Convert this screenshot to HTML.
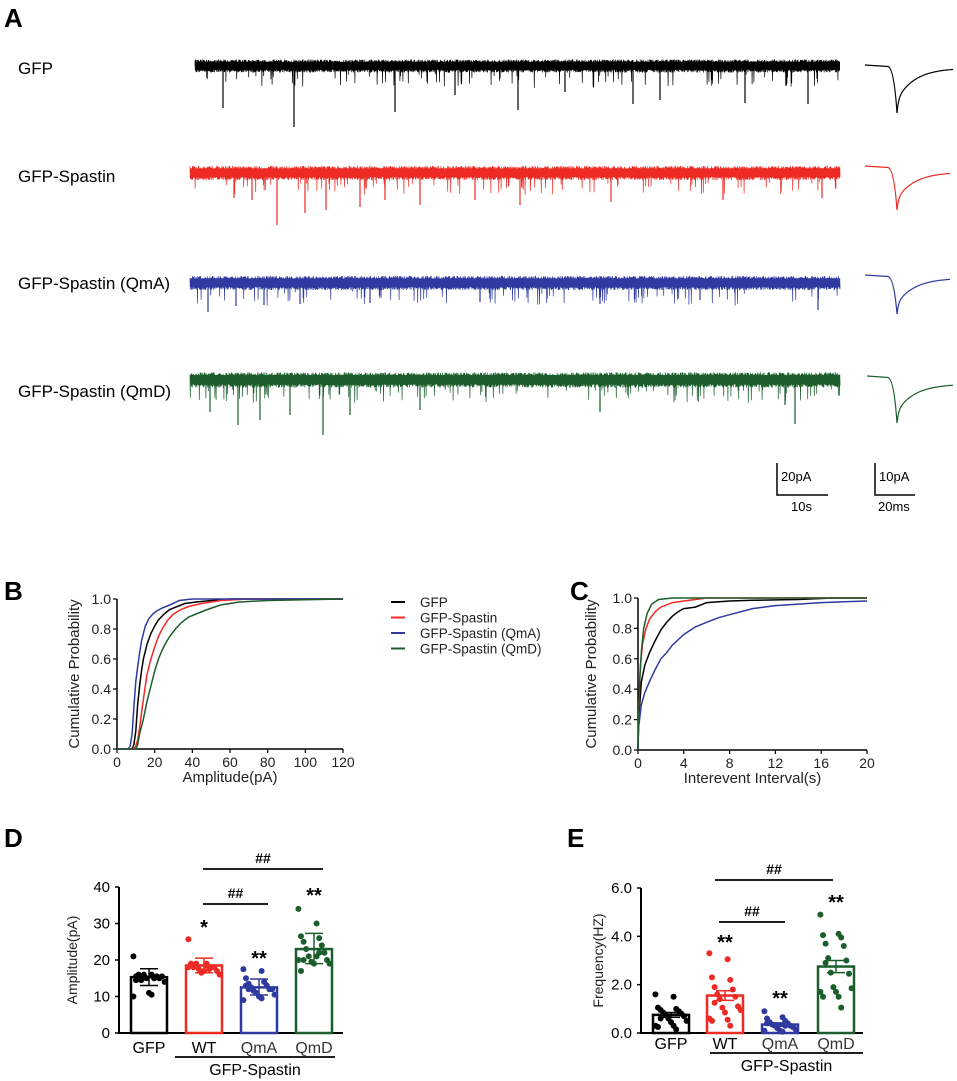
<!DOCTYPE html>
<html><head><meta charset="utf-8">
<style>
html,body{margin:0;padding:0;background:#fff;}
svg{display:block;font-family:"Liberation Sans",Arial,sans-serif;}
</style></head>
<body>
<svg id="fig" width="957" height="1081" viewBox="0 0 957 1081" xmlns="http://www.w3.org/2000/svg">
<g id="panelA">
<text x="4" y="27" font-size="26" font-weight="bold">A</text>
<text x="18" y="74" font-size="17">GFP</text>
<text x="18" y="182" font-size="17">GFP-Spastin</text>
<text x="18" y="289" font-size="17">GFP-Spastin (QmA)</text>
<text x="18" y="397" font-size="17">GFP-Spastin (QmD)</text>
<g stroke="#000" stroke-width="1.5" fill="none">
<path d="M777,463 V495 H828"/></g>
<text x="781" y="481" font-size="13">20pA</text>
<text x="791" y="511" font-size="13">10s</text>
<g stroke="#000" stroke-width="1.5" fill="none">
<path d="M875,463 V495 H915"/></g>
<text x="879" y="481" font-size="13">10pA</text>
<text x="878" y="511" font-size="13">20ms</text>
</g>
<g id="panelB">
<text x="4" y="600" font-size="26" font-weight="bold">B</text>
</g>
<g id="panelC">
<text x="570" y="600" font-size="26" font-weight="bold">C</text>
</g>
<g id="panelD">
<text x="4" y="847" font-size="26" font-weight="bold">D</text>
</g>
<g id="panelE">
<text x="567" y="847" font-size="26" font-weight="bold">E</text>
</g>
</svg>
<script>
// ---------- data ----------
const groupNames = ["GFP","GFP-Spastin","GFP-Spastin (QmA)","GFP-Spastin (QmD)"];
const groupColors = ["#000000","#ee2a24","#2e3a9f","#1b5e2c"];
// Panel B: amplitude CDF (x pA, y prob)
const ampGFP_x = [0,8,9,10,11,12,13,14,16,18,20,22,25,28,32,36,42,50,60,80,120];
const ampGFP_y = [0,0,0.03,0.12,0.3,0.42,0.52,0.6,0.7,0.77,0.82,0.86,0.9,0.93,0.95,0.97,0.98,0.99,1,1,1];
const ampWT_x = [0,9,10,11,12,13,14,15,16,18,20,22,24,27,30,34,38,45,55,70,120];
const ampWT_y = [0,0,0.02,0.06,0.14,0.24,0.33,0.42,0.5,0.6,0.68,0.75,0.8,0.86,0.9,0.93,0.95,0.97,0.99,1,1];
const ampQmA_x = [0,6,7,8,9,10,11,12,13,14,15,17,19,21,24,28,33,40,120];
const ampQmA_y = [0,0,0.02,0.1,0.28,0.45,0.55,0.64,0.72,0.77,0.82,0.87,0.9,0.92,0.94,0.96,0.99,1,1];
const ampQmD_x = [0,10,11,12,14,16,18,20,22,24,26,28,31,34,38,42,48,55,65,80,120];
const ampQmD_y = [0,0,0.03,0.1,0.2,0.32,0.42,0.52,0.6,0.66,0.71,0.75,0.8,0.84,0.88,0.9,0.93,0.96,0.98,0.99,1];
// Panel C: interval CDF (s)
const intGFP_x = [0,0.05,0.3,0.6,1,1.5,2,2.5,3,3.5,4,5,6,8,10,14,17,20];
const intGFP_y = [0,0.2,0.45,0.56,0.64,0.72,0.79,0.84,0.88,0.91,0.93,0.94,0.97,0.98,0.985,0.99,1,1];
const intWT_x = [0,0.05,0.2,0.4,0.7,1,1.5,2,3,4,6,20];
const intWT_y = [0,0.25,0.55,0.7,0.8,0.86,0.91,0.94,0.97,0.98,1,1];
const intQmA_x = [0,0.05,0.3,0.6,1,1.5,2,2.5,3,4,5,6,7,8,9,10,12,14,16,18,20];
const intQmA_y = [0,0.15,0.3,0.38,0.45,0.53,0.6,0.64,0.69,0.76,0.81,0.84,0.87,0.89,0.91,0.93,0.95,0.96,0.97,0.975,0.98];
const intQmD_x = [0,0.05,0.15,0.3,0.5,0.8,1.2,1.8,3,20];
const intQmD_y = [0,0.2,0.45,0.65,0.8,0.9,0.96,0.99,1,1];
// Panel D: amplitude
const barLabels = ["GFP","WT","QmA","QmD"];
const ampMeans = [15.3,18.5,12.5,23.0];
const ampErrLo = [13.0,16.5,10.4,19.0];
const ampErrHi = [17.6,20.5,14.8,27.3];
const ampDotsGFP = [21,16,15.5,15,15,15.5,14.5,15,16,15.5,15,14,11,10,10.5,14.5,15,16];
const ampDotsWT = [25.7,19,18.5,18,18.5,18,19,18,17.5,17,16.5,16,17,18,18.5,19,17.5,18];
const ampDotsQmA = [17.5,17,15,14,13.5,13,12.5,12,11.5,12,11,10.5,10,9,9.5,13,14,12];
const ampDotsQmD = [34,30,26.5,26,25,24,23,22,21,20,19.5,19,19,20,21,17,22,20];
const ampTicks = [0,10,20,30,40];
// Panel E: frequency
const freqMeans = [0.75,1.55,0.35,2.75];
const freqErrLo = [0.65,1.35,0.28,2.5];
const freqErrHi = [0.85,1.75,0.42,3.0];
const freqDotsGFP = [1.6,1.5,1.05,1.0,0.95,0.9,0.85,0.8,0.75,0.7,0.6,0.5,0.45,0.3,0.3,0.25,0.15,0.6];
const freqDotsWT = [3.3,3.05,2.3,2.2,1.9,1.8,1.6,1.5,1.4,1.1,1.05,0.95,0.85,0.6,0.55,0.5,0.3,1.25];
const freqDotsQmA = [0.9,0.65,0.6,0.5,0.45,0.4,0.35,0.3,0.3,0.25,0.2,0.15,0.1,0.1,0.05,0.4,0.3];
const freqDotsQmD = [4.9,4.1,4.05,3.95,3.7,3.6,3.1,3.0,2.5,2.45,1.9,1.85,1.7,1.7,1.5,1.5,1.05,2.9];
const freqTicks = [0,2,4,6];
const freqTickLabels = ["0.0","2.0","4.0","6.0"];

// ---------- helpers ----------
const NS="http://www.w3.org/2000/svg";
function mk(parent,tag,attrs,txt){const e=document.createElementNS(NS,tag);for(const k in attrs)e.setAttribute(k,attrs[k]);if(txt!==undefined)e.textContent=txt;parent.appendChild(e);return e;}
let seed=12345;function rnd(){seed=(seed*1103515245+12345)&0x7fffffff;return seed/0x7fffffff;}

// ---------- Panel A traces ----------
const A=document.getElementById('panelA');
const traceRows=[
 {x0:195,base:66,half:6,big:[[223,108],[294,127],[395,112],[518,110],[633,104],[660,100],[745,103],[808,104],[455,95],[565,92]]},
 {x0:190,base:173,half:6.5,big:[[277,225],[305,213],[326,210],[360,207],[385,200],[420,205],[475,200],[520,205],[611,202],[723,200],[822,198],[252,200],[234,198]]},
 {x0:190,base:283,half:6.5,big:[[208,312],[236,306],[264,305],[300,304],[370,303],[480,302],[600,304],[700,300],[818,310]]},
 {x0:190,base:380,half:7,big:[[238,425],[260,420],[323,435],[290,415],[350,415],[420,410],[600,412],[795,424],[785,405],[210,412]]}
];
traceRows.forEach((r,i)=>{
  const g=mk(A,'g',{});
  
  
  mk(g,'rect',{x:r.x0,y:r.base-r.half*0.7,width:840-r.x0,height:r.half*1.3,fill:groupColors[i]});
  let d='M'+r.x0+','+r.base;
  for(let x=r.x0;x<=840;x+=0.6){
    const y1=r.base-r.half*(0.6+rnd()*0.5);
    let y2=r.base+r.half*(0.6+rnd()*0.5);
    if(rnd()<0.08) y2+=4+rnd()*12;
    d+=' L'+x.toFixed(1)+','+y1.toFixed(1)+' L'+(x+0.3).toFixed(1)+','+y2.toFixed(1);
  }
  mk(g,'path',{d:d,fill:'none',stroke:groupColors[i],'stroke-width':'0.7'});
  r.big.forEach(b=>mk(g,'line',{x1:b[0],x2:b[0],y1:r.base,y2:b[1],stroke:groupColors[i],'stroke-width':'1.2'}));
  const av=[[865,65,897,113,953,68],[865,166,897,210,950,172],[865,275,897,314,950,278],[867,376,897,423,953,384]][i];
  const base=av[1],px=av[2],py=av[3],ex=av[4],ey=av[5];
  let ad='M'+av[0]+','+base+' L'+(px-9)+','+(base+1.5)+' Q'+(px-3)+','+(base+3)+' '+px+','+py;
  for(let x=px;x<=ex;x+=1){const t=(x-px);const y=ey+(py-ey)*(0.3*Math.exp(-t/1.5)+0.7*Math.exp(-t/18));ad+=' L'+x+','+y.toFixed(1);}
  const avg=mk(A,'path',{d:ad,fill:'none',stroke:groupColors[i],'stroke-width':'1.2'});
  
  
});

// ---------- CDF panels ----------
function cdfPanel(gid,x0,x1,xmax,xticks,xtitle,series,yt0,yt1,titleX){
  const G=document.getElementById(gid);
  const sx=v=>x0+(x1-x0)*v/xmax, sy=v=>yt0+(yt1-yt0)*v;
  const ax=mk(G,'path',{d:'M'+x0+','+yt1+' V'+yt0+' H'+x1,fill:'none',stroke:'#000','stroke-width':'1.5'});
  
  [0,0.2,0.4,0.6,0.8,1].forEach(v=>{
    mk(G,'line',{x1:x0-4,x2:x0,y1:sy(v),y2:sy(v),stroke:'#000','stroke-width':'1.2'});
    const t=mk(G,'text',{x:x0-6,y:sy(v)+5,'font-size':'14','text-anchor':'end',fill:'#222'},v.toFixed(1));
    
  });
  xticks.forEach(v=>{
    mk(G,'line',{x1:sx(v),x2:sx(v),y1:yt0,y2:yt0+4,stroke:'#000','stroke-width':'1.2'});
    const t=mk(G,'text',{x:sx(v),y:yt0+18,'font-size':'14','text-anchor':'middle',fill:'#222'},String(v));
    
  });
  const xt=mk(G,'text',{x:(x0+x1)/2,y:yt0+33,'font-size':'15','text-anchor':'middle',fill:'#222'},xtitle);
  
  const yt=mk(G,'text',{x:0,y:0,'font-size':'15','text-anchor':'middle',fill:'#222',transform:'translate('+titleX+','+((yt0+yt1)/2)+') rotate(-90)'},'Cumulative Probability');
  
  series.forEach((s,i)=>{
    let d='';s[0].forEach((xv,k)=>{d+=(k?' L':'M')+sx(xv).toFixed(1)+','+sy(s[1][k]).toFixed(1);});
    const p=mk(G,'path',{d:d,fill:'none',stroke:groupColors[i],'stroke-width':'1.5'});
    
    
  });
}
cdfPanel('panelB',117,343,120,[0,20,40,60,80,100,120],'Amplitude(pA)',
 [[ampGFP_x,ampGFP_y],[ampWT_x,ampWT_y],[ampQmA_x,ampQmA_y],[ampQmD_x,ampQmD_y]],749,599,79);
cdfPanel('panelC',638,867,20,[0,4,8,12,16,20],'Interevent Interval(s)',
 [[intGFP_x,intGFP_y],[intWT_x,intWT_y],[intQmA_x,intQmA_y],[intQmD_x,intQmD_y]],750,598,596);
// legend
const B=document.getElementById('panelB');
groupNames.forEach((n,i)=>{
  const y=602+i*15.5;
  const lg=mk(B,'g',{});
  
  
  mk(lg,'line',{x1:391,x2:405,y1:y,y2:y,stroke:groupColors[i],'stroke-width':'2'});
  mk(lg,'text',{x:420,y:y+5,'font-size':'13.5',fill:'#222'},n);
});

// ---------- bar panels ----------
function barPanel(gid,o){
  const G=document.getElementById(gid);
  const sy=v=>o.y0+(o.y1-o.y0)*v/o.ymax;
  const ax=mk(G,'path',{d:'M'+o.ax+','+o.y1+' V'+o.y0+' H'+o.axEnd,fill:'none',stroke:'#000','stroke-width':'2'});
  
  o.ticks.forEach((v,k)=>{
    mk(G,'line',{x1:o.ax-4,x2:o.ax,y1:sy(v),y2:sy(v),stroke:'#000','stroke-width':'1.5'});
    const t=mk(G,'text',{x:o.ax-9,y:sy(v)+5,'font-size':'15','text-anchor':'end'},o.tickLabels[k]);
    
  });
  const yt=mk(G,'text',{x:0,y:0,'font-size':'14','text-anchor':'middle',fill:'#222',transform:'translate('+o.titleX+','+((o.y0+o.y1)/2)+') rotate(-90)'},o.title);
  
  o.means.forEach((m,i)=>{
    const bx=o.barX[i],bw=36,cx=bx+bw/2;
    const bar=mk(G,'rect',{x:bx,y:sy(m),width:bw,height:o.y0-sy(m),fill:'none',stroke:groupColors[i],'stroke-width':'2.5'});
    
    
    o.dots[i].forEach((v,k)=>{
      const off=((k*7)%13-6)*2.6;
      const c=mk(G,'circle',{cx:cx+off,cy:sy(v),r:3,fill:groupColors[i]});
      
      
    });
    const eb=mk(G,'path',{d:'M'+cx+','+sy(o.lo[i])+' V'+sy(o.hi[i])+' M'+(cx-9)+','+sy(o.lo[i])+' H'+(cx+9)+' M'+(cx-9)+','+sy(o.hi[i])+' H'+(cx+9),fill:'none',stroke:groupColors[i],'stroke-width':'1.5'});
    
    const xl=mk(G,'text',{x:cx,y:o.labY,'font-size':'16','text-anchor':'middle',fill:i===0||i===1?'#000':'#333'},barLabels[i]);
    
    if(o.stars[i]){const s=mk(G,'text',{x:cx,y:o.starY[i],'font-size':'20','font-weight':'bold','text-anchor':'middle'},o.stars[i]);
      }
  });
  o.sig.forEach(s=>{
    const l=mk(G,'line',{x1:s[0],x2:s[1],y1:s[2],y2:s[2],stroke:'#000','stroke-width':'1.8'});
    
    const t=mk(G,'text',{x:(s[0]+s[1])/2,y:s[2]-6,'font-size':'14','font-weight':'bold','text-anchor':'middle'},'##');
    
  });
  const gl=mk(G,'line',{x1:o.grp[0],x2:o.grp[1],y1:o.grp[2],y2:o.grp[2],stroke:'#000','stroke-width':'1.8'});
  
  const gt=mk(G,'text',{x:(o.grp[0]+o.grp[1])/2,y:o.grp[2]+18,'font-size':'16','text-anchor':'middle'},'GFP-Spastin');
  
}
barPanel('panelD',{ax:119,axEnd:343,y0:1033,y1:887,ymax:40,ticks:ampTicks,tickLabels:ampTicks.map(String),
  title:'Amplitude(pA)',titleX:77,barX:[131,186,241,296],means:ampMeans,lo:ampErrLo,hi:ampErrHi,
  dots:[ampDotsGFP,ampDotsWT,ampDotsQmA,ampDotsQmD],stars:['','*','**','**'],starY:[0,934,965,902],labY:1053,
  sig:[[203,323,869],[203,268,904]],grp:[175,335,1057]});
barPanel('panelE',{ax:641,axEnd:863,y0:1033,y1:888,ymax:6,ticks:freqTicks,tickLabels:freqTickLabels,
  title:'Frequency(HZ)',titleX:603,barX:[653,707,762,818],means:freqMeans,lo:freqErrLo,hi:freqErrHi,
  dots:[freqDotsGFP,freqDotsWT,freqDotsQmA,freqDotsQmD],stars:['','**','**','**'],starY:[0,949,1005,909],labY:1049,
  sig:[[715,833,880],[719,785,922]],grp:[710,863,1053]});
</script>
</body></html>
